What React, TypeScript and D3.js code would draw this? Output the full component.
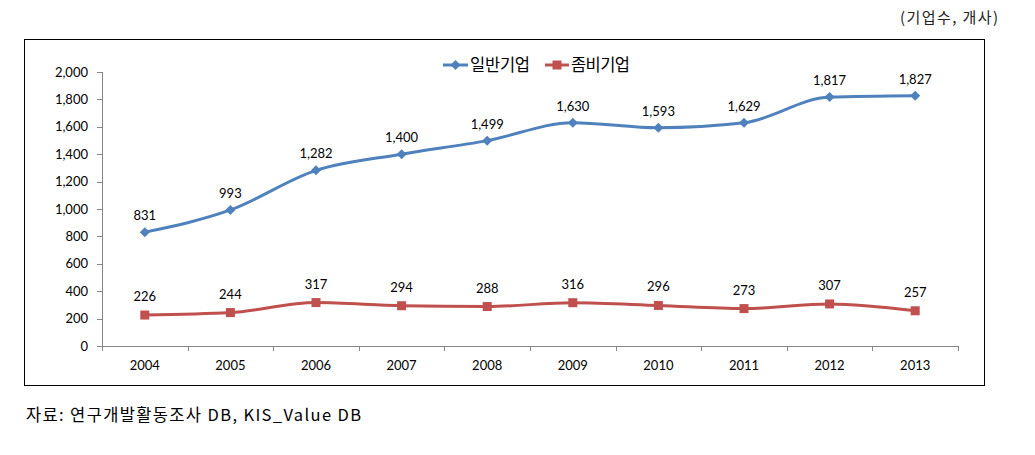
import React from "react";
import * as d3 from "d3";

const years = ["2004", "2005", "2006", "2007", "2008", "2009", "2010", "2011", "2012", "2013"];
const normalFirms = [831, 993, 1282, 1400, 1499, 1630, 1593, 1629, 1817, 1827];
const zombieFirms = [226, 244, 317, 294, 288, 316, 296, 273, 307, 257];
const yTicks = [0, 200, 400, 600, 800, 1000, 1200, 1400, 1600, 1800, 2000];
const seriesNames = ["일반기업", "좀비기업"];

const W = 1035;
const H = 455;
const plot = { left: 102, right: 958, top: 72, bottom: 346 };
const blue = "#4F81BD";
const red = "#C0504D";
const axisColor = "#868686";
const numFont = "Lato, 'Open Sans', sans-serif";
const krFont = "'Noto Sans CJK KR', 'Noto Sans', sans-serif";

export default function App() {
  const x = d3.scaleBand<string>().domain(years).range([plot.left, plot.right]);
  const y = d3.scaleLinear().domain([0, 2000]).range([plot.bottom, plot.top]);
  const cx = (d: string) => (x(d) as number) + x.bandwidth() / 2;
  const line = d3
    .line<number>()
    .x((_, i) => cx(years[i]))
    .y((v) => y(v))
    .curve(d3.curveMonotoneX);
  const fmt = d3.format(",");

  const boundaries = d3.range(years.length + 1).map((i) => plot.left + i * x.bandwidth());

  return (
    <svg width={W} height={H} style={{ position: "absolute", left: 0, top: 0 }}>
      <rect x={0} y={0} width={W} height={H} fill="#fff" />
      <text x={900} y={23} textLength={98} lengthAdjust="spacing" fontFamily={krFont} fontSize={15} fill="#222">
        (기업수, 개사)
      </text>
      <rect x={24.5} y={39.5} width={960} height={346} fill="none" stroke="#000" strokeWidth={1} />

      {/* y axis */}
      <line x1={plot.left + 0.5} x2={plot.left + 0.5} y1={plot.top} y2={plot.bottom} stroke={axisColor} />
      {yTicks.map((t) => (
        <g key={t}>
          <line x1={plot.left - 5} x2={plot.left} y1={Math.round(y(t)) + 0.5} y2={Math.round(y(t)) + 0.5} stroke={axisColor} />
          <text x={plot.left - 14} y={y(t) + 4.5} textAnchor="end" fontFamily={numFont} fontSize={13} fill="#000">
            {fmt(t)}
          </text>
        </g>
      ))}

      {/* x axis */}
      <line x1={plot.left} x2={plot.right} y1={plot.bottom + 0.5} y2={plot.bottom + 0.5} stroke={axisColor} />
      {boundaries.map((b, i) => (
        <line key={i} x1={Math.round(b) + 0.5} x2={Math.round(b) + 0.5} y1={plot.bottom} y2={plot.bottom + 5} stroke={axisColor} />
      ))}
      {years.map((yr) => (
        <text key={yr} x={cx(yr)} y={plot.bottom + 24} textAnchor="middle" fontFamily={numFont} fontSize={13} fill="#000">
          {yr}
        </text>
      ))}

      {/* series */}
      <path d={line(normalFirms) || ""} fill="none" stroke={blue} strokeWidth={3} />
      <path d={line(zombieFirms) || ""} fill="none" stroke={red} strokeWidth={3} />
      {normalFirms.map((v, i) => {
        const px = cx(years[i]);
        const py = y(v);
        return (
          <g key={"n" + i}>
            <path d={`M${px},${py - 5}L${px + 5},${py}L${px},${py + 5}L${px - 5},${py}Z`} fill={blue} />
            <text x={px} y={py - 12} textAnchor="middle" fontFamily={numFont} fontSize={13} fill="#000">
              {fmt(v)}
            </text>
          </g>
        );
      })}
      {zombieFirms.map((v, i) => {
        const px = cx(years[i]);
        const py = y(v);
        return (
          <g key={"z" + i}>
            <rect x={px - 4.5} y={py - 4.5} width={9} height={9} fill={red} />
            <text x={px} y={py - 14} textAnchor="middle" fontFamily={numFont} fontSize={13} fill="#000">
              {fmt(v)}
            </text>
          </g>
        );
      })}

      {/* legend */}
      <g>
        <line x1={443} x2={468} y1={65} y2={65} stroke={blue} strokeWidth={3} />
        <path d="M455.5,60L460.5,65L455.5,70L450.5,65Z" fill={blue} />
        <text x={470} y={71} textLength={60} lengthAdjust="spacing" fontFamily={krFont} fontSize={16.5} fill="#000">{seriesNames[0]}</text>
        <line x1={545} x2={569} y1={65} y2={65} stroke={red} strokeWidth={3} />
        <rect x={552.5} y={60.5} width={9} height={9} fill={red} />
        <text x={571} y={71} textLength={59} lengthAdjust="spacing" fontFamily={krFont} fontSize={16.5} fill="#000">{seriesNames[1]}</text>
      </g>

      <text x={26} y={421} textLength={335} lengthAdjust="spacing" fontFamily={krFont} fontSize={16.5} fill="#000">
        자료: 연구개발활동조사 DB, KIS_Value DB
      </text>
    </svg>
  );
}
